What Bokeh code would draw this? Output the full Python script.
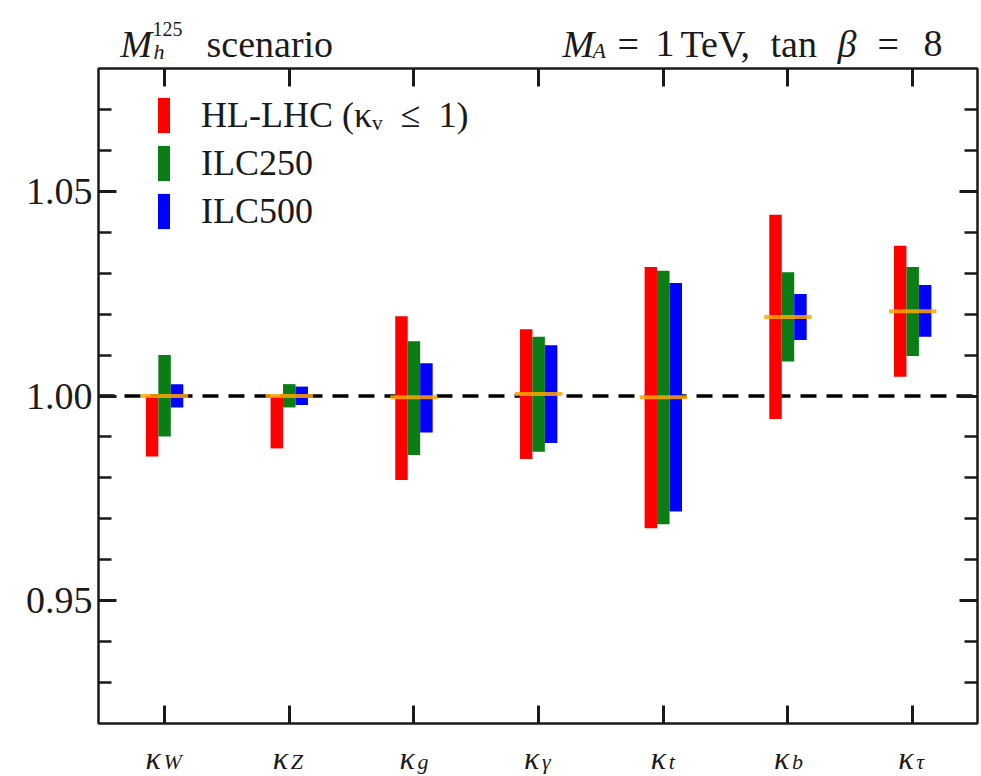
import numpy as np
from bokeh.plotting import figure
from bokeh.layouts import column
from bokeh.models import (ColumnDataSource, FixedTicker, LinearAxis, Span, Label,
                          Legend, LegendItem, Range1d)
from bokeh.transform import dodge
from bokeh.embed import file_html
from bokeh.resources import INLINE

# ---------------- data ----------------
categories = ["W", "Z", "g", "γ", "t", "b", "τ"]          # subscripts of kappa
central    = [1.0000, 1.0000, 0.9997, 1.0005, 0.9997, 1.0193, 1.0207]
hl_lo      = [0.9852, 0.9872, 0.9795, 0.9846, 0.9677, 0.9944, 1.0047]
hl_hi      = [1.0000, 1.0000, 1.0195, 1.0163, 1.0315, 1.0443, 1.0367]
ilc250_lo  = [0.9901, 0.9972, 0.9856, 0.9864, 0.9687, 1.0084, 1.0098]
ilc250_hi  = [1.0100, 1.0029, 1.0134, 1.0145, 1.0306, 1.0302, 1.0315]
ilc500_lo  = [0.9972, 0.9978, 0.9911, 0.9885, 0.9718, 1.0137, 1.0145]
ilc500_hi  = [1.0029, 1.0023, 1.0080, 1.0124, 1.0276, 1.0249, 1.0271]
series_names = ["HL-LHC (κᵥ  ≤  1)", "ILC250", "ILC500"]
y_ticks = [0.95, 1.00, 1.05]
y_tick_labels = ["0.95", "1.00", "1.05"]
reference_value = 1.0

FONT = "Liberation Serif"
TXT = "#1a1a1a"
W = 981
BL, BR = 98, 4            # frame borders left / right (shared by all strips)
TOP_H, MAIN_H, BOT_H = 64, 663, 49

x = list(range(len(categories)))
src = ColumnDataSource(dict(x=x, central=central, hl_lo=hl_lo, hl_hi=hl_hi,
                            i250_lo=ilc250_lo, i250_hi=ilc250_hi,
                            i500_lo=ilc500_lo, i500_hi=ilc500_hi))
xr = Range1d(-0.53, 6.52)

def strip(h, x_range):
    f = figure(width=W, height=h, x_range=x_range, y_range=Range1d(0, 1), title=None,
               output_backend="svg", toolbar_location=None,
               x_axis_location=None, y_axis_location=None,
               min_border_left=BL, min_border_right=BR, min_border_top=0, min_border_bottom=0)
    f.outline_line_color = None
    f.grid.visible = False
    f.background_fill_color = "white"
    f.border_fill_color = "white"
    return f

# ---------------- title strip ----------------
top = strip(TOP_H, Range1d(0, 1))

def lab(fig, xp, yp, t, size="38px", style="normal"):
    fig.add_layout(Label(x=xp, y=yp, x_units="screen", y_units="screen", text=t,
                         text_align="left", text_baseline="alphabetic", text_font=FONT,
                         text_font_style=style, text_font_size=size, text_color=TXT))

lab(top, 22, 21, "M", style="italic")
lab(top, 55, 13, "h", size="22px", style="italic")
lab(top, 54, 36, "125", size="20px")
lab(top, 108, 21, "scenario")

lab(top, 464, 21, "M", style="italic")
lab(top, 494, 14, "A", size="22px", style="italic")
lab(top, 519, 21, "=")
lab(top, 557, 21, "1")
lab(top, 582, 21, "TeV,")
lab(top, 672, 21, "tan")
lab(top, 739, 21, "β", style="italic")
lab(top, 779, 21, "=")
lab(top, 825, 21, "8")

# ---------------- main plot ----------------
p = figure(width=W, height=MAIN_H, x_range=xr, y_range=Range1d(0.92, 1.08), title=None,
           output_backend="svg", toolbar_location=None,
           min_border_left=BL, min_border_top=4, min_border_bottom=4, min_border_right=BR)
p.xgrid.visible = False
p.ygrid.visible = False
p.outline_line_color = "#1a1a1a"
p.outline_line_width = 2
p.background_fill_color = "white"
p.border_fill_color = "white"

span = Span(location=reference_value, dimension="width", line_color="black",
            line_width=3.5, line_dash="16 10", level="underlay")
p.add_layout(span)

r1 = p.vbar(x=dodge("x", -0.1), width=0.1, bottom="hl_lo", top="hl_hi", source=src,
            fill_color="#ff0000", line_color=None)
r2 = p.vbar(x=dodge("x", 0.0), width=0.1, bottom="i250_lo", top="i250_hi", source=src,
            fill_color="#0a7d14", line_color=None)
r3 = p.vbar(x=dodge("x", 0.1), width=0.1, bottom="i500_lo", top="i500_hi", source=src,
            fill_color="#0000ff", line_color=None)
p.segment(x0=dodge("x", -0.19), x1=dodge("x", 0.19), y0="central", y1="central", source=src,
          line_color="#ffa500", line_width=4, line_alpha=0.85)

minor = [round(v, 2) for v in np.arange(0.93, 1.075, 0.01) if round(v, 2) not in y_ticks]
yticker = FixedTicker(ticks=y_ticks, minor_ticks=minor)
xticker = FixedTicker(ticks=x, minor_ticks=[])

def style(ax):
    ax.axis_line_width = 2
    ax.axis_line_color = "#1a1a1a"
    ax.major_tick_in = 18
    ax.major_tick_out = 0
    ax.minor_tick_in = 13
    ax.minor_tick_out = 0
    ax.major_tick_line_width = 3
    ax.minor_tick_line_width = 2.5
    ax.major_tick_line_color = "#1a1a1a"
    ax.minor_tick_line_color = "#1a1a1a"

def blank(ax, ticks):
    ax.major_label_overrides = {t: "" for t in ticks}
    ax.major_label_text_font_size = "1px"
    ax.major_label_standoff = 0

yl = p.yaxis[0]
yl.ticker = yticker
style(yl)
yl.major_label_overrides = {t: s for t, s in zip(y_ticks, y_tick_labels)}
yl.major_label_text_font = FONT
yl.major_label_text_font_size = "38px"
yl.major_label_text_color = TXT
yl.major_label_standoff = 6

xb = p.xaxis[0]
xb.ticker = xticker
style(xb)
blank(xb, x)

yr = LinearAxis(ticker=yticker)
style(yr)
blank(yr, y_ticks)
p.add_layout(yr, "right")
xt = LinearAxis(ticker=xticker)
style(xt)
blank(xt, x)
p.add_layout(xt, "above")

legend = Legend(items=[LegendItem(label=series_names[0], renderers=[r1]),
                       LegendItem(label=series_names[1], renderers=[r2]),
                       LegendItem(label=series_names[2], renderers=[r3])],
                location=(58, 490), glyph_width=15, glyph_height=44, spacing=4,
                padding=0, margin=0, label_standoff=30,
                label_text_font=FONT, label_text_font_size="36px", label_text_color=TXT,
                border_line_alpha=0, background_fill_alpha=0)
p.add_layout(legend)

# ---------------- x tick label strip ----------------
bot = strip(BOT_H, xr)

sub_w = {"W": 20, "Z": 15, "g": 11, "γ": 11, "t": 7, "b": 10, "τ": 11}
for i, c in enumerate(categories):
    w = 18 + sub_w.get(c, 11)
    bot.add_layout(Label(x=i, y=19, x_units="data", y_units="screen", text="κ",
                         x_offset=-w / 2, text_align="left", text_baseline="alphabetic",
                         text_font=FONT, text_font_style="italic", text_font_size="32px",
                         text_color=TXT))
    bot.add_layout(Label(x=i, y=15, x_units="data", y_units="screen", text=c,
                         x_offset=-w / 2 + 18, text_align="left", text_baseline="alphabetic",
                         text_font=FONT, text_font_style="italic", text_font_size="22px",
                         text_color=TXT))

layout = column(top, p, bot, spacing=0)
open("out.html", "w").write(file_html(layout, INLINE))
